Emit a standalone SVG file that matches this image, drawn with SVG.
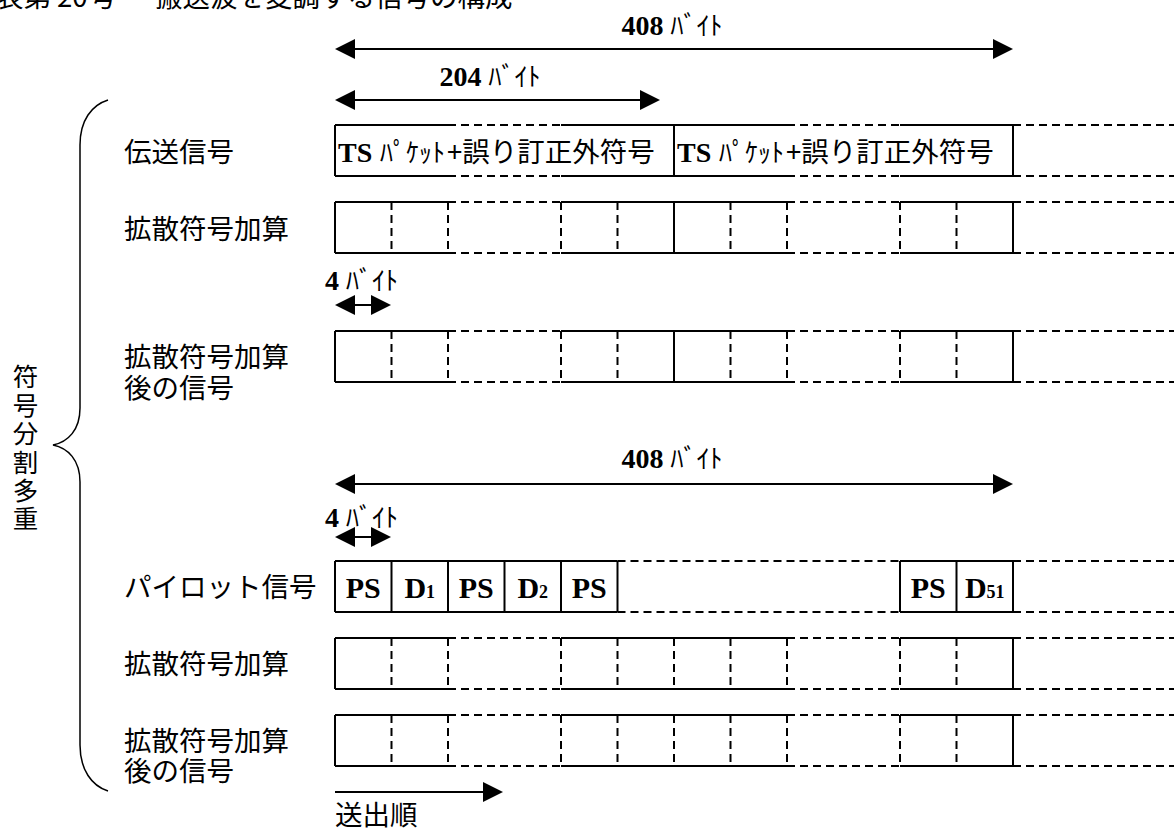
<svg xmlns="http://www.w3.org/2000/svg" width="1174" height="828" viewBox="0 0 1174 828">
<style>
.s{stroke:#000;stroke-width:2;fill:none}
.d{stroke:#000;stroke-width:2;stroke-dasharray:8 5;fill:none}
.ln{stroke:#000;stroke-width:2;fill:none}
.lbl{font-family:"Noto Sans CJK JP",sans-serif;font-size:27.5px;fill:#000}
.vt{font-family:"Noto Sans CJK JP",sans-serif;font-size:25.5px;fill:#000;writing-mode:vertical-rl;letter-spacing:2.9px}
.num{font-family:"Liberation Serif","Noto Sans CJK JP",serif;font-weight:bold;font-size:28px;fill:#000}
.kana{font-family:"Noto Sans CJK JP",sans-serif;font-weight:normal;font-size:26px}
.cell{font-family:"Liberation Serif",serif;font-weight:bold;font-size:30px;fill:#000;text-anchor:middle}
.sub{font-size:18px}
</style>
<defs>
<marker id="ah" markerUnits="userSpaceOnUse" markerWidth="20" markerHeight="20" viewBox="0 0 20 20" refX="2" refY="10" orient="auto-start-reverse">
<path d="M0,0L20,10L0,20z" fill="#000"/>
</marker>
</defs>
<rect width="1174" height="828" fill="#fff"/>

<g id="title">
<text class="lbl" y="7"><tspan x="-4">表第</tspan><tspan x="57">20</tspan><tspan x="89">号</tspan><tspan x="155">搬送波を変調する信号の構成</tspan></text>
</g>

<g id="brace">
<path d="M108,100C92,105 80,120 80,145L80,408C80,430 68,442 53,445C68,448 80,460 80,482L80,745C80,770 92,786 108,791" fill="none" stroke="#000" stroke-width="1.5"/>
<text class="vt" x="25.5" y="364">符号分割多重</text>
</g>

<g id="row1">
<path class="s" d="M335,125H448M561,125H787M900,125H1013M335,176H448M561,176H787M900,176H1013M335,125V176M674,125V176M1013,125V176"/>
<path class="d" d="M448,125H561M787,125H900M1013,125H1174M448,176H561M787,176H900M1013,176H1174"/>
<text class="lbl" x="124" y="162">伝送信号</text>
<text class="num" y="162"><tspan x="338">TS</tspan><tspan class="kana" x="380">ﾊﾟｹｯﾄ</tspan><tspan class="lbl" x="447" style="font-weight:normal">+誤り訂正外符号</tspan></text>
<text class="num" y="162"><tspan x="677">TS</tspan><tspan class="kana" x="719">ﾊﾟｹｯﾄ</tspan><tspan class="lbl" x="786" style="font-weight:normal">+誤り訂正外符号</tspan></text>
</g>

<g id="row2">
<path class="s" d="M335,202H448M561,202H787M900,202H1013M335,253H448M561,253H787M900,253H1013M335,202V253M674,202V253M1013,202V253"/>
<path class="d" d="M448,202H561M787,202H900M1013,202H1174M448,253H561M787,253H900M1013,253H1174M391.5,202V253M448,202V253M561,202V253M617.5,202V253M730.5,202V253M787,202V253M900,202V253M956.5,202V253"/>
<text class="lbl" x="124" y="239">拡散符号加算</text>
</g>

<g id="row3">
<path class="s" d="M335,331H448M561,331H787M900,331H1013M335,382H448M561,382H787M900,382H1013M335,331V382M674,331V382M1013,331V382"/>
<path class="d" d="M448,331H561M787,331H900M1013,331H1174M448,382H561M787,382H900M1013,382H1174M391.5,331V382M448,331V382M561,331V382M617.5,331V382M730.5,331V382M787,331V382M900,331V382M956.5,331V382"/>
<text class="lbl" x="124" y="367">拡散符号加算<tspan x="124" dy="31">後の信号</tspan></text>
</g>

<g id="row4">
<path class="s" d="M335,561H617.5M900,561H1013M335,612H617.5M900,612H1013M335,561V612M391.5,561V612M448,561V612M504.5,561V612M561,561V612M617.5,561V612M900,561V612M956.5,561V612M1013,561V612"/>
<path class="d" d="M617.5,561H900M1013,561H1174M617.5,612H900M1013,612H1174"/>
<text class="lbl" x="124" y="597">パイロット信号</text>
<text class="cell" x="363.25" y="598">PS</text>
<text class="cell" x="419.75" y="598">D<tspan class="sub">1</tspan></text>
<text class="cell" x="476.25" y="598">PS</text>
<text class="cell" x="532.75" y="598">D<tspan class="sub">2</tspan></text>
<text class="cell" x="589.25" y="598">PS</text>
<text class="cell" x="928.25" y="598">PS</text>
<text class="cell" x="984.75" y="598">D<tspan class="sub">51</tspan></text>
</g>

<g id="row5">
<path class="s" d="M335,638H448M561,638H787M900,638H1013M335,689H448M561,689H787M900,689H1013M335,638V689M1013,638V689"/>
<path class="d" d="M448,638H561M787,638H900M1013,638H1174M448,689H561M787,689H900M1013,689H1174M391.5,638V689M448,638V689M561,638V689M617.5,638V689M674,638V689M730.5,638V689M787,638V689M900,638V689M956.5,638V689"/>
<text class="lbl" x="124" y="674">拡散符号加算</text>
</g>

<g id="row6">
<path class="s" d="M335,715H448M561,715H787M900,715H1013M335,766H448M561,766H787M900,766H1013M335,715V766M1013,715V766"/>
<path class="d" d="M448,715H561M787,715H900M1013,715H1174M448,766H561M787,766H900M1013,766H1174M391.5,715V766M448,715V766M561,715V766M617.5,715V766M674,715V766M730.5,715V766M787,715V766M900,715V766M956.5,715V766"/>
<text class="lbl" x="124" y="751">拡散符号加算<tspan x="124" dy="30">後の信号</tspan></text>
</g>

<g id="dimlabels">
<text class="num" x="672" y="35" text-anchor="middle">408 <tspan class="kana">ﾊﾞｲﾄ</tspan></text>
<text class="num" x="490" y="86" text-anchor="middle">204 <tspan class="kana">ﾊﾞｲﾄ</tspan></text>
<text class="num" x="325" y="290">4 <tspan class="kana">ﾊﾞｲﾄ</tspan></text>
<text class="num" x="672" y="468" text-anchor="middle">408 <tspan class="kana">ﾊﾞｲﾄ</tspan></text>
<text class="num" x="325" y="527">4 <tspan class="kana">ﾊﾞｲﾄ</tspan></text>
<text class="lbl" x="335" y="825">送出順</text>
</g>

<g id="connectors">
<line class="ln" x1="353" y1="49" x2="995" y2="49" marker-start="url(#ah)" marker-end="url(#ah)"/>
<line class="ln" x1="353" y1="100" x2="642" y2="100" marker-start="url(#ah)" marker-end="url(#ah)"/>
<line class="ln" x1="353" y1="305" x2="373" y2="305" marker-start="url(#ah)" marker-end="url(#ah)"/>
<line class="ln" x1="353" y1="484" x2="995" y2="484" marker-start="url(#ah)" marker-end="url(#ah)"/>
<line class="ln" x1="353" y1="537" x2="373" y2="537" marker-start="url(#ah)" marker-end="url(#ah)"/>
<line class="ln" x1="335" y1="792" x2="485" y2="792" marker-end="url(#ah)"/>
</g>
</svg>
